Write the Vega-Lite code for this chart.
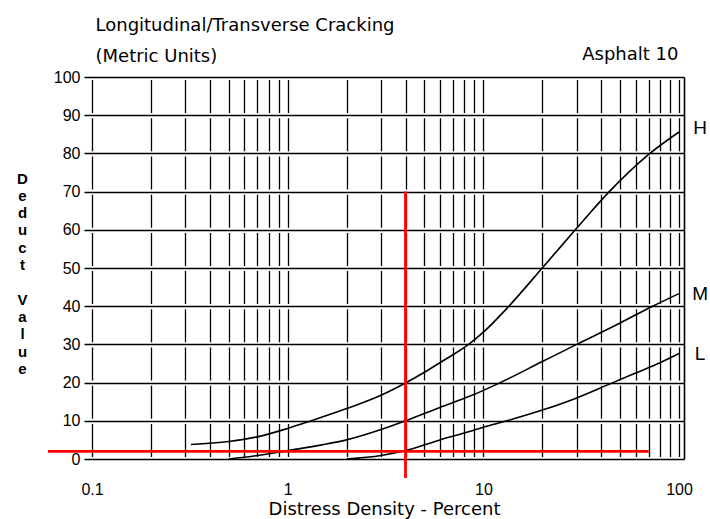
{
  "$schema": "https://vega.github.io/schema/vega-lite/v6.json",
  "width": 600,
  "height": 382,
  "autosize": "none",
  "padding": {"left": 84, "top": 77, "right": 26, "bottom": 60},
  "background": "white",
  "config": {
    "view": {"stroke": null},
    "font": "Liberation Sans",
    "axis": {"labelColor": "black", "titleColor": "black"}
  },
  "datasets": {
    "curves": [
      {"series": "H", "density": 0.32, "deduct": 3.8},
      {"series": "H", "density": 0.5, "deduct": 4.6},
      {"series": "H", "density": 0.7, "deduct": 5.8},
      {"series": "H", "density": 1.0, "deduct": 8.0},
      {"series": "H", "density": 1.3, "deduct": 9.9},
      {"series": "H", "density": 2, "deduct": 13.2},
      {"series": "H", "density": 3, "deduct": 16.7},
      {"series": "H", "density": 4, "deduct": 19.9},
      {"series": "H", "density": 5, "deduct": 22.7},
      {"series": "H", "density": 6, "deduct": 25.2},
      {"series": "H", "density": 8.5, "deduct": 30.2},
      {"series": "H", "density": 10, "deduct": 33.2},
      {"series": "H", "density": 13.5, "deduct": 40},
      {"series": "H", "density": 20, "deduct": 50},
      {"series": "H", "density": 29.5, "deduct": 60},
      {"series": "H", "density": 44, "deduct": 70},
      {"series": "H", "density": 69, "deduct": 79.5},
      {"series": "H", "density": 100, "deduct": 85.6},
      {"series": "M", "density": 0.5, "deduct": 0},
      {"series": "M", "density": 0.7, "deduct": 0.9},
      {"series": "M", "density": 1.0, "deduct": 2.2},
      {"series": "M", "density": 1.5, "deduct": 3.7},
      {"series": "M", "density": 2, "deduct": 5},
      {"series": "M", "density": 3, "deduct": 7.7},
      {"series": "M", "density": 4, "deduct": 10},
      {"series": "M", "density": 6, "deduct": 13.5},
      {"series": "M", "density": 8.5, "deduct": 16.4},
      {"series": "M", "density": 12.2, "deduct": 20},
      {"series": "M", "density": 20, "deduct": 25.5},
      {"series": "M", "density": 30, "deduct": 30},
      {"series": "M", "density": 50, "deduct": 35.6},
      {"series": "M", "density": 72, "deduct": 39.8},
      {"series": "M", "density": 100, "deduct": 43.3},
      {"series": "L", "density": 2, "deduct": 0},
      {"series": "L", "density": 3, "deduct": 0.9},
      {"series": "L", "density": 4, "deduct": 2.2},
      {"series": "L", "density": 6, "deduct": 5},
      {"series": "L", "density": 8.5, "deduct": 7.2},
      {"series": "L", "density": 10, "deduct": 8.3},
      {"series": "L", "density": 13.2, "deduct": 10},
      {"series": "L", "density": 20, "deduct": 12.8},
      {"series": "L", "density": 30, "deduct": 16},
      {"series": "L", "density": 45, "deduct": 19.8},
      {"series": "L", "density": 60, "deduct": 22.5},
      {"series": "L", "density": 80, "deduct": 25.2},
      {"series": "L", "density": 100, "deduct": 27.6}
    ],
    "labels": [
      {"label": "H", "density": 100, "deduct": 86.7},
      {"label": "M", "density": 100, "deduct": 43.3},
      {"label": "L", "density": 100, "deduct": 27.6}
    ],
    "vline": [{"density": 4, "from": -5, "to": 70}],
    "hline": [{"from": 0.0596, "to": 70, "deduct": 2}]
  },
  "layer": [
    {
      "data": {"name": "curves"},
      "mark": {"type": "line", "color": "black", "strokeWidth": 1.6, "interpolate": "monotone"},
      "encoding": {
        "x": {
          "field": "density",
          "type": "quantitative",
          "scale": {"type": "log", "domain": [0.091, 106], "nice": false},
          "axis": {
            "orient": "bottom",
            "values": [0.1, 0.2, 0.3, 0.4, 0.5, 0.6, 0.7, 0.8, 0.9, 1, 2, 3, 4, 5, 6, 7, 8, 9, 10, 20, 30, 40, 50, 60, 70, 80, 90, 100],
            "format": "~g",
            "labelExpr": "(datum.value == 0.1 || datum.value == 1 || datum.value == 10 || datum.value == 100) ? datum.label : ''",
            "grid": true,
            "gridColor": "black",
            "gridWidth": 1.3,
            "gridOpacity": 1,
            "gridDash": [33, 5.2],
            "gridDashOffset": 35.6,
            "domain": false,
            "ticks": false,
            "labelPadding": 22,
            "labelFontSize": 16,
            "labelFont": "Liberation Sans",
            "labelFlush": false,
            "title": "Distress Density - Percent",
            "titleFont": "DejaVu Sans",
            "titleFontSize": 18,
            "titleFontWeight": "normal",
            "titlePadding": 3
          }
        },
        "y": {
          "field": "deduct",
          "type": "quantitative",
          "scale": {"domain": [0, 100], "nice": false},
          "axis": {
            "orient": "left",
            "values": [0, 10, 20, 30, 40, 50, 60, 70, 80, 90, 100],
            "grid": true,
            "gridColor": "black",
            "gridWidth": 1.5,
            "gridOpacity": 1,
            "domain": false,
            "ticks": false,
            "labelPadding": 4,
            "labelFontSize": 16,
            "labelFont": "Liberation Sans",
            "labelFlush": false,
            "title": ["D", "e", "d", "u", "c", "t", "\u2800", "V", "a", "l", "u", "e"],
            "titleAngle": 0,
            "titleX": -62,
            "titleY": 101,
            "titleAlign": "center",
            "titleBaseline": "middle",
            "titleLineHeight": 17.3,
            "titleFont": "Liberation Sans",
            "titleFontSize": 15,
            "titleFontWeight": "bold"
          }
        },
        "detail": {"field": "series"}
      }
    },
    {
      "data": {"name": "vline"},
      "mark": {"type": "rule", "color": "#ff0000", "strokeWidth": 2.8},
      "encoding": {
        "x": {
          "field": "density",
          "type": "quantitative",
          "scale": {"type": "log", "domain": [0.091, 106], "nice": false},
          "axis": {
            "orient": "top",
            "labels": false,
            "ticks": false,
            "domain": false,
            "grid": false,
            "title": ["Longitudinal/Transverse Cracking", "(Metric Units)"],
            "titleFont": "DejaVu Sans",
            "titleFontSize": 18,
            "titleFontWeight": "normal",
            "titleAlign": "left",
            "titleBaseline": "top",
            "titleLineHeight": 30.7,
            "titleX": 11,
            "titleY": -60.2
          }
        },
        "y": {
          "field": "from",
          "type": "quantitative",
          "scale": {"domain": [0, 100], "nice": false},
          "axis": {
            "orient": "right",
            "labels": false,
            "ticks": false,
            "grid": false,
            "domain": true,
            "domainColor": "black",
            "domainWidth": 1.6,
            "title": "Asphalt 10",
            "titleFont": "DejaVu Sans",
            "titleFontSize": 18,
            "titleFontWeight": "normal",
            "titleAngle": 0,
            "titleAlign": "right",
            "titleBaseline": "alphabetic",
            "titleX": -6,
            "titleY": -17.7
          }
        },
        "y2": {"field": "to"}
      }
    },
    {
      "data": {"name": "hline"},
      "mark": {"type": "rule", "color": "#ff0000", "strokeWidth": 2.8},
      "encoding": {
        "x": {
          "field": "from",
          "type": "quantitative",
          "scale": {"type": "log", "domain": [0.091, 106], "nice": false},
          "axis": null
        },
        "x2": {"field": "to"},
        "y": {
          "field": "deduct",
          "type": "quantitative",
          "scale": {"domain": [0, 100], "nice": false},
          "axis": null
        }
      }
    },
    {
      "data": {"name": "labels"},
      "mark": {"type": "text", "font": "Liberation Sans", "fontSize": 19, "color": "black", "dx": 21, "align": "center", "baseline": "middle"},
      "encoding": {
        "x": {
          "field": "density",
          "type": "quantitative",
          "scale": {"type": "log", "domain": [0.091, 106], "nice": false},
          "axis": null
        },
        "y": {
          "field": "deduct",
          "type": "quantitative",
          "scale": {"domain": [0, 100], "nice": false},
          "axis": null
        },
        "text": {"field": "label"}
      }
    }
  ],
  "resolve": {"axis": {"x": "independent", "y": "independent"}}
}
